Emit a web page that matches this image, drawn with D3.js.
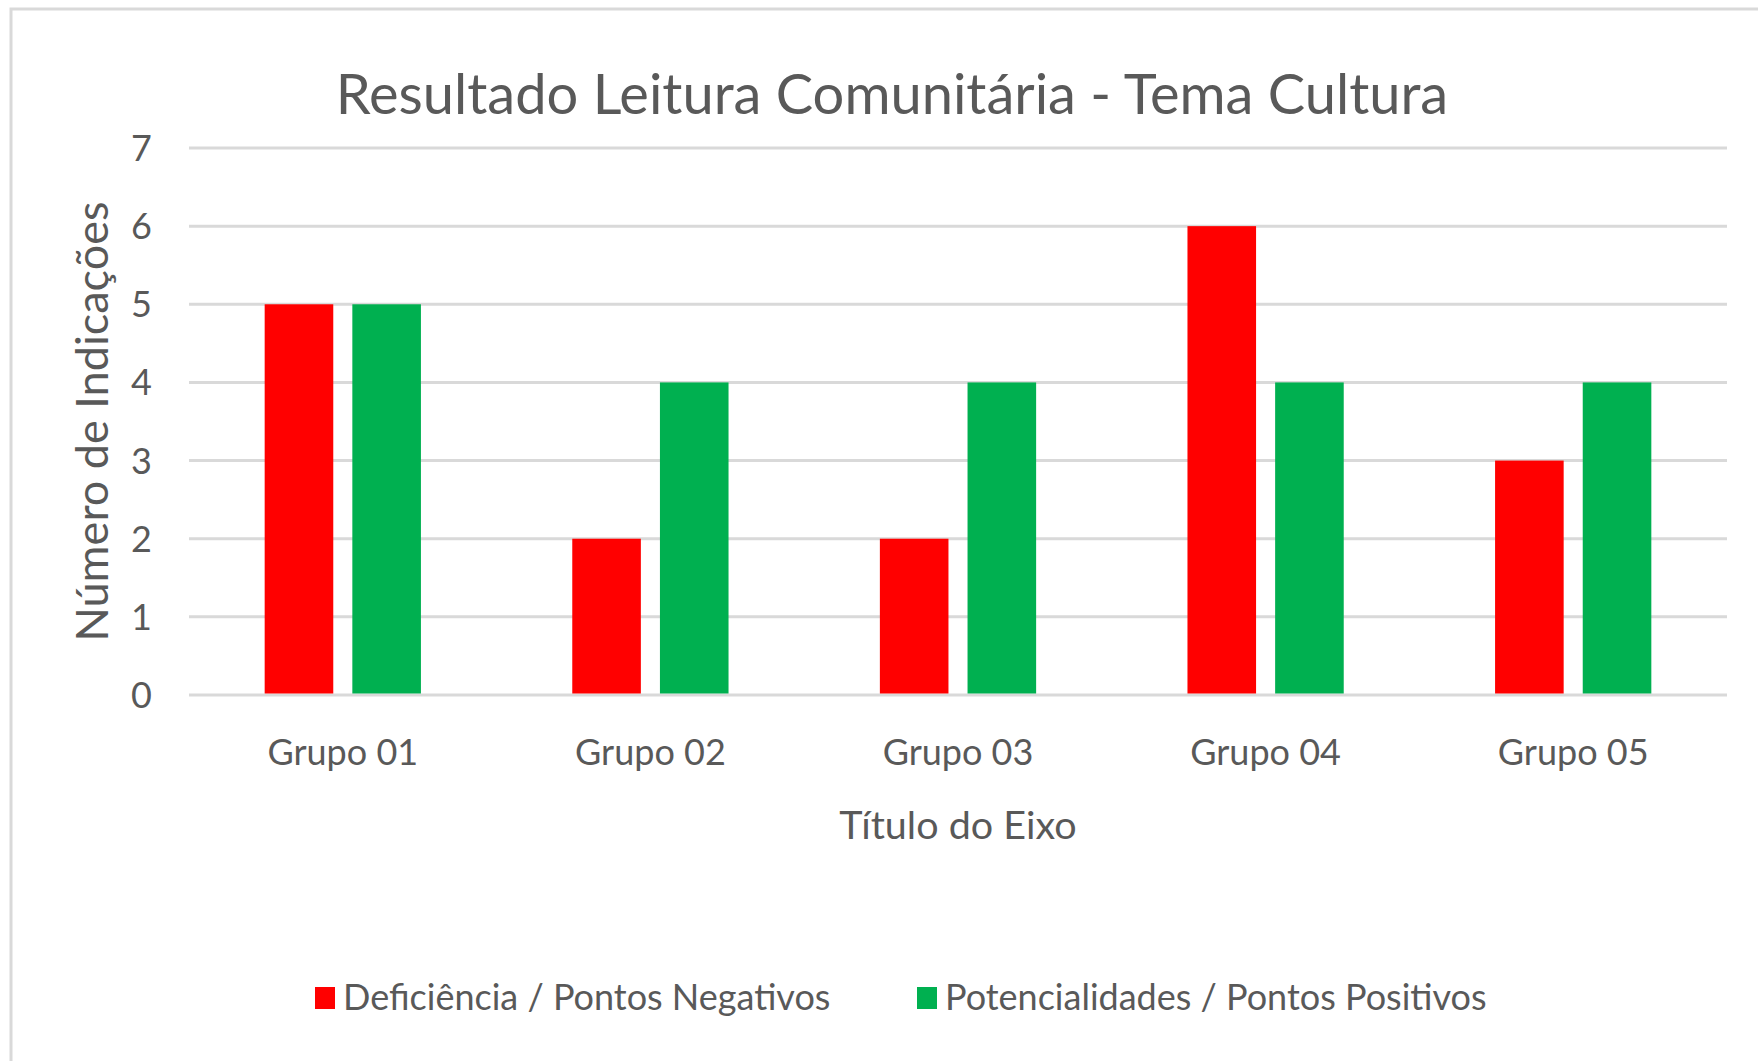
<!DOCTYPE html>
<html>
<head>
<meta charset="utf-8">
<script src="https://cdnjs.cloudflare.com/ajax/libs/d3/7.8.5/d3.min.js"></script>
<style>
  html, body { margin: 0; padding: 0; background: #ffffff; }
  svg { display: block; }
  text { font-family: Lato, "Open Sans", "DejaVu Sans", sans-serif; fill: #595959; }
</style>
</head>
<body>
<svg id="chart" width="1758" height="1061"></svg>
<script>
// Chart data
const categories = ["Grupo 01", "Grupo 02", "Grupo 03", "Grupo 04", "Grupo 05"];
const seriesNames = ["Deficiência / Pontos Negativos", "Potencialidades / Pontos Positivos"];
const negativos = [5, 2, 2, 6, 3];
const positivos = [5, 4, 4, 4, 4];
const yTicks = [0, 1, 2, 3, 4, 5, 6, 7];
const seriesColors = ["#ff0000", "#00b050"];

const titleText = "Resultado Leitura Comunitária - Tema Cultura";
const xTitleText = "Título do Eixo";
const yTitleText = "Número de Indicações";

const svg = d3.select("#chart");
const W = 1758, H = 1061;

// Outer chart frame
svg.append("rect")
  .attr("x", 11).attr("y", 9)
  .attr("width", W + 20).attr("height", H + 20)
  .attr("fill", "#ffffff")
  .attr("stroke", "#d9d9d9")
  .attr("stroke-width", 3);

const plot = { left: 189, right: 1727, top: 148, bottom: 695 };

const x0 = d3.scaleBand()
  .domain(categories)
  .range([plot.left, plot.right])
  .paddingInner(0).paddingOuter(0);

const barW = x0.bandwidth() * 0.223;
const barGap = x0.bandwidth() * 0.062;

const y = d3.scaleLinear().domain([0, 7]).range([plot.bottom, plot.top]);

// Horizontal gridlines
svg.append("g")
  .selectAll("line")
  .data(yTicks)
  .join("line")
  .attr("x1", plot.left).attr("x2", plot.right)
  .attr("y1", d => y(d)).attr("y2", d => y(d))
  .attr("stroke", "#d9d9d9")
  .attr("stroke-width", 3);

// Bars
const series = [negativos, positivos];
const groups = svg.append("g");
series.forEach((vals, si) => {
  groups.append("g")
    .selectAll("rect")
    .data(vals)
    .join("rect")
    .attr("x", (d, i) => {
      const c = x0(categories[i]) + x0.bandwidth() / 2;
      return si === 0 ? c - barGap / 2 - barW : c + barGap / 2;
    })
    .attr("y", d => y(d))
    .attr("width", barW)
    .attr("height", d => y(0) - 1.5 - y(d))
    .attr("fill", seriesColors[si]);
});

// Y tick labels
svg.append("g")
  .selectAll("text")
  .data(yTicks)
  .join("text")
  .attr("x", 152)
  .attr("y", d => y(d))
  .attr("dy", "0.36em")
  .attr("text-anchor", "end")
  .style("font-size", "36px")
  .text(d => d);

// X tick labels
svg.append("g")
  .selectAll("text")
  .data(categories)
  .join("text")
  .attr("x", d => x0(d) + x0.bandwidth() / 2)
  .attr("y", 765)
  .attr("text-anchor", "middle")
  .style("font-size", "36px")
  .text(d => d);

// Chart title
svg.append("text")
  .attr("x", 892).attr("y", 114)
  .attr("text-anchor", "middle")
  .style("font-size", "56px")
  .text(titleText);

// Axis titles
svg.append("text")
  .attr("x", 958).attr("y", 839)
  .attr("text-anchor", "middle")
  .style("font-size", "39.5px")
  .text(xTitleText);

svg.append("text")
  .attr("transform", `translate(108, ${(plot.top + plot.bottom) / 2}) rotate(-90)`)
  .attr("text-anchor", "middle")
  .style("font-size", "45px")
  .text(yTitleText);

// Legend
const legendItems = [
  { name: seriesNames[0], color: seriesColors[0], x: 315 },
  { name: seriesNames[1], color: seriesColors[1], x: 917 }
];
const legend = svg.append("g");
legendItems.forEach(it => {
  legend.append("rect")
    .attr("x", it.x).attr("y", 987)
    .attr("width", 20).attr("height", 22)
    .attr("fill", it.color);
  legend.append("text")
    .attr("x", it.x + 28).attr("y", 1010)
    .style("font-size", "36px")
    .text(it.name);
});
</script>
</body>
</html>
